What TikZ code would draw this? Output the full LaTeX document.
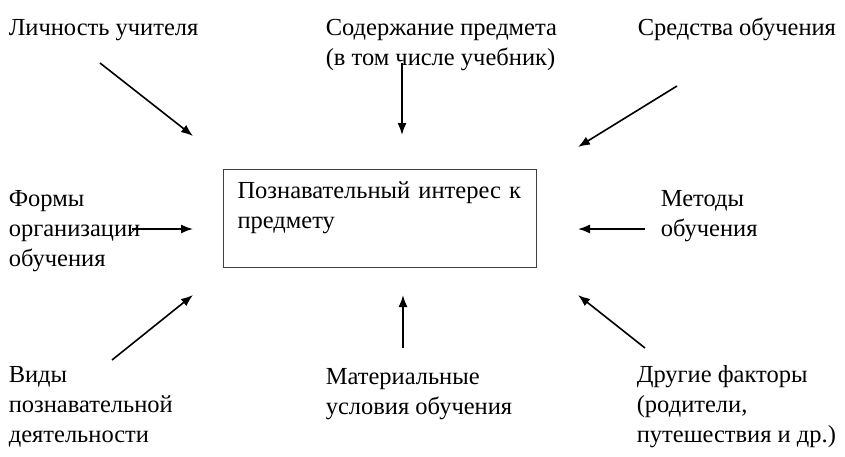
\documentclass[tikz,border=0pt]{standalone}
\usepackage{fontspec}
\setmainfont{Liberation Serif}
\usetikzlibrary{arrows.meta}

\begin{document}
\begin{tikzpicture}[x=1pt,y=-1pt,
	every node/.style={font=\fontsize{24.5}{30}\selectfont, inner sep=0pt, anchor=base west, align=left},
	>={Latex[length=12pt,width=9pt]}, line width=1.6pt]
			\useasboundingbox (0,0) rectangle (845,456);
			% labels, placed at the baseline of their last line
			\node (0) at (8,35) {Личность учителя};
			\node (1) at (325,65) {Содержание предмета\\(в том числе учебник)};
			\node (2) at (637,35) {Средства обучения};
			\node (3) at (8,266) {Формы\\организации\\обучения};
			\node (4) [draw=black!75, line width=1.1pt, anchor=north west, inner xsep=14pt, inner ysep=12pt, text width=285pt] at (223,169) {Познавательный интерес к\\предмету\rule[-27pt]{0pt}{0pt}};
			\node (5) at (660,236) {Методы\\обучения};
			\node (6) at (8,442) {Виды\\познавательной\\деятельности};
			\node (7) at (325,414) {Материальные\\условия обучения};
			\node (8) at (636,442) {Другие факторы\\(родители,\\путешествия и др.)};
			% arrow ends
			\coordinate (a0) at (100,63);  \coordinate (b0) at (193,136);
			\coordinate (a1) at (402,63);  \coordinate (b1) at (402,135);
			\coordinate (a2) at (677,86);  \coordinate (b2) at (578,147);
			\coordinate (a3) at (132,229); \coordinate (b3) at (193,229);
			\coordinate (a5) at (645,229); \coordinate (b5) at (578,229);
			\coordinate (a6) at (112,360); \coordinate (b6) at (193,295);
			\coordinate (a7) at (403,348); \coordinate (b7) at (403,295);
			\coordinate (a8) at (645,348); \coordinate (b8) at (578,295);
			\draw [->] (a0)--(b0);
			\draw [->] (a1)--(b1);
			\draw [->] (a2)--(b2);
			\draw [->] (a3)--(b3);
			\draw [->] (a5)--(b5);
			\draw [->] (a6)--(b6);
			\draw [->] (a7)--(b7);
			\draw [->] (a8)--(b8);
			\end{tikzpicture}
\end{document}
